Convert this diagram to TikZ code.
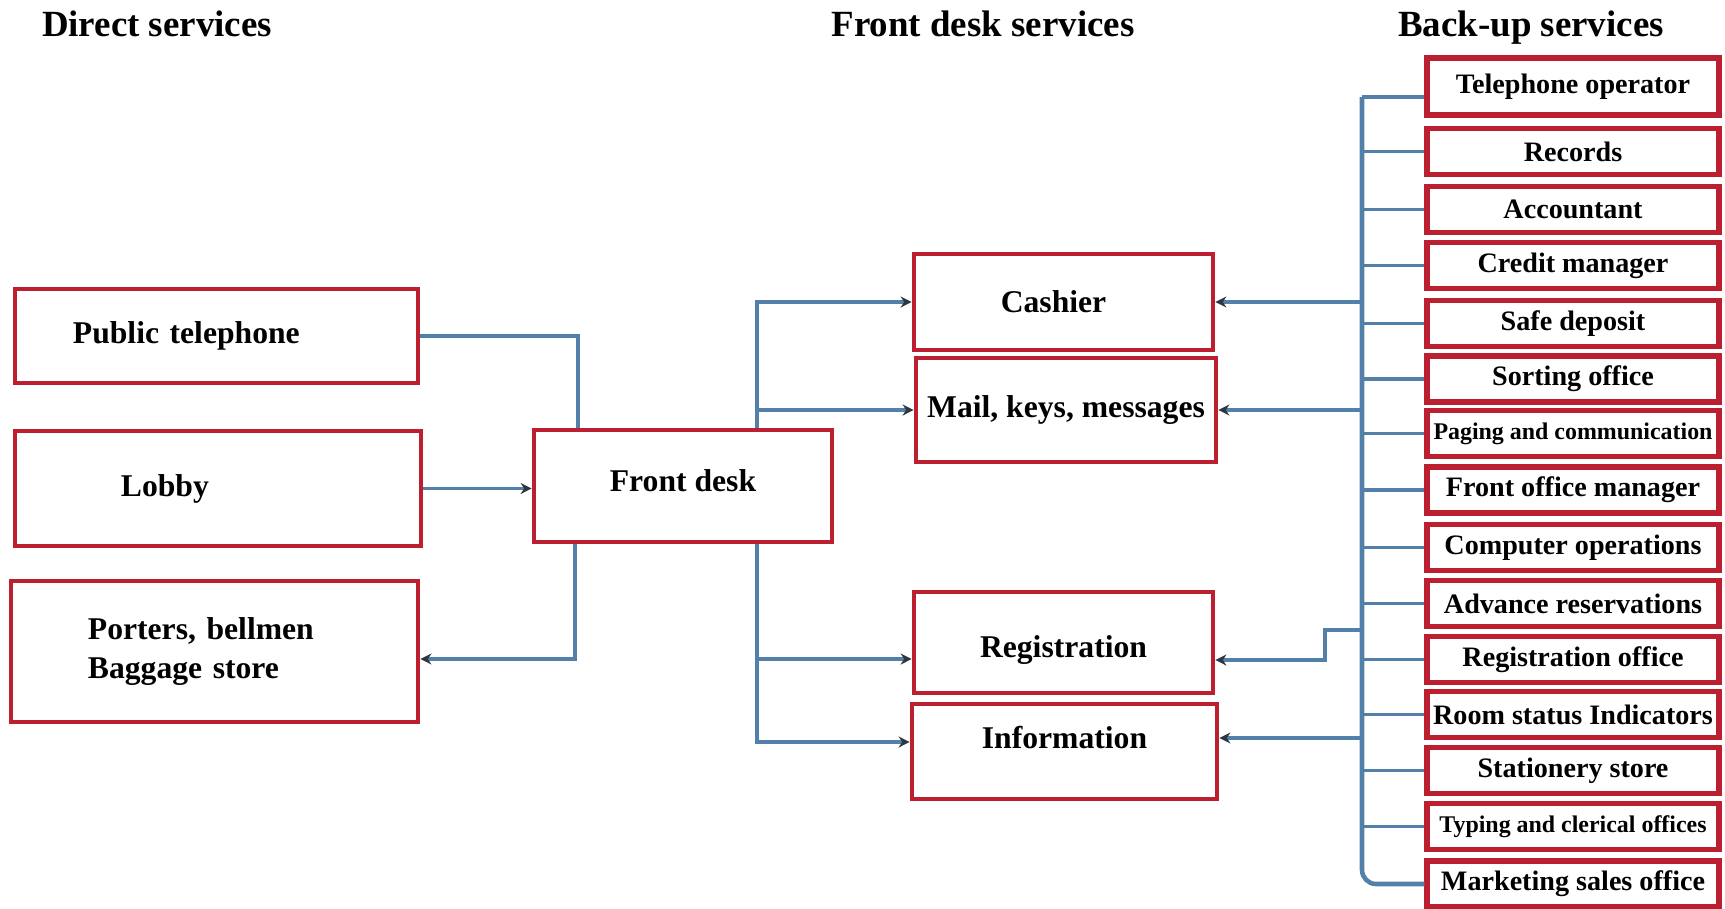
\documentclass[tikz,border=0pt]{standalone}
\usepackage{fontspec}
\setmainfont{Liberation Serif}
\usetikzlibrary{arrows.meta}

\definecolor{boxred}{RGB}{188,32,48}
\definecolor{linkblue}{RGB}{82,128,168}
\definecolor{tipdark}{RGB}{45,55,65}

\begin{document}
\begin{tikzpicture}[x=0.01cm, y=-0.01cm,
    title/.style={font=\bfseries\fontsize{10.5}{12}\selectfont, anchor=base},
    frontbox/.style={draw=boxred, line width=1.3pt, fill=white, inner sep=0pt,
        font=\bfseries\fontsize{9}{11}\selectfont},
    backbox/.style={draw=boxred, line width=1.5pt, fill=white, inner sep=0pt,
        minimum width=2.92cm, minimum height=0.46cm, font=\bfseries\fontsize{8}{9}\selectfont},
    link/.style={draw=linkblue, line width=1.1pt},
    linkto/.style={link, -{Stealth[length=1.1mm, width=1.1mm, color=tipdark]}}]

    \useasboundingbox (0,0) rectangle (1725,908);

    % headings
    \node[title] (hdirect) at (157,36) {Direct services};
    \node[title] (hfront) at (983,36) {Front desk services};
    \node[title] (hback) at (1531,36) {Back-up services};

    % direct services
    \node[frontbox, minimum height=0.94cm, text width=2.87cm, inner xsep=0.58cm, align=left] (pubtel) at (216.5,336) {Public telephone};
    \node[frontbox, minimum height=1.15cm, text width=1.94cm, inner xsep=1.06cm, align=left] (lobby) at (218,488.5) {Lobby};
    \node[frontbox, minimum height=1.41cm, text width=2.53cm, inner xsep=0.77cm, align=left] (porters) at (214.5,651.5) {Porters, bellmen\\Baggage store};

    % front desk
    \node[frontbox, minimum width=2.98cm, minimum height=1.12cm, text depth=3.2pt] (frontdesk) at (683,486) {Front desk};

    % front desk services
    \node[frontbox, minimum width=2.99cm, minimum height=0.96cm] (cashier) at (1063.5,302) {\hspace*{-0.2cm}Cashier};
    \node[frontbox, minimum width=3.00cm, minimum height=1.04cm] (mail) at (1066,410) {Mail, keys, messages};
    \node[frontbox, minimum width=2.99cm, minimum height=1.01cm, text height=10.5pt] (registration) at (1063.5,642.5) {Registration};
    \node[frontbox, minimum width=3.05cm, minimum height=0.95cm, text depth=8pt] (information) at (1064.5,751.5) {Information};

    % back-up services
    \node[backbox, minimum height=0.57cm] (tel) at (1573,86.5) {Telephone operator};
    \foreach \nm/\yy/\txt in {rec/151.5/Records, acc/209.5/Accountant,
        crd/265.5/Credit manager, safe/323.5/Safe deposit, sort/379/Sorting office,
        pag/433.5/{\fontsize{6.8}{8}\selectfont Paging and communication},
        fom/490/Front office manager, comp/547.5/Computer operations,
        adv/603.5/Advance reservations, rego/659.5/Registration office,
        room/714.5/Room status Indicators, stat/770.5/Stationery store,
        typ/826.5/{\fontsize{6.8}{8}\selectfont Typing and clerical offices},
        mkt/884/Marketing sales office}
        \node[backbox] (\nm) at (1573,\yy) {\txt};

    % direct services to front desk
    \draw[link] (pubtel.east) -| ([xshift=-1.05cm]frontdesk.north);
    \draw[linkto] (lobby.east) -- (frontdesk.west |- lobby.east);
    \draw[linkto] ([xshift=-1.08cm]frontdesk.south) |- ([yshift=-0.075cm]porters.east);

    % front desk to its services
    \coordinate (split) at (757,486);
    \coordinate (regin) at ([yshift=-0.165cm]registration.west);
    \coordinate (infoin) at ([yshift=0.095cm]information.west);
    \draw[linkto] (split |- frontdesk.north) |- (cashier.west);
    \draw[linkto] (split |- mail.west) -- (mail.west);
    \draw[linkto] (split |- frontdesk.south) |- (infoin);
    \draw[linkto] (split |- regin) -- (regin);

    % back-up bus
    \coordinate (bus) at (1362,0);
    \coordinate (telin) at ([yshift=-0.105cm]tel.west);
    \draw[link, line width=1.3pt] (telin) -- (bus |- telin);
    \draw[link, line width=1.3pt, rounded corners=4pt] (bus |- telin) -- (bus |- mkt.west) -- (mkt.west);
    \foreach \nm in {rec,acc,crd,safe,sort,pag,fom,comp,adv,rego,room,stat,typ}
        \draw[link] (bus |- \nm.west) -- (\nm.west);

    % back-up to front desk services
    \coordinate (regstep) at (1325,630);
    \coordinate (regout) at ([yshift=-0.175cm]registration.east);
    \coordinate (infoout) at ([yshift=0.135cm]information.east);
    \draw[linkto] (bus |- cashier.east) -- (cashier.east);
    \draw[linkto] (bus |- mail.east) -- (mail.east);
    \draw[linkto] (bus |- regstep) -- (regstep) |- (regout);
    \draw[linkto] (bus |- infoout) -- (infoout);

\end{tikzpicture}
\end{document}
